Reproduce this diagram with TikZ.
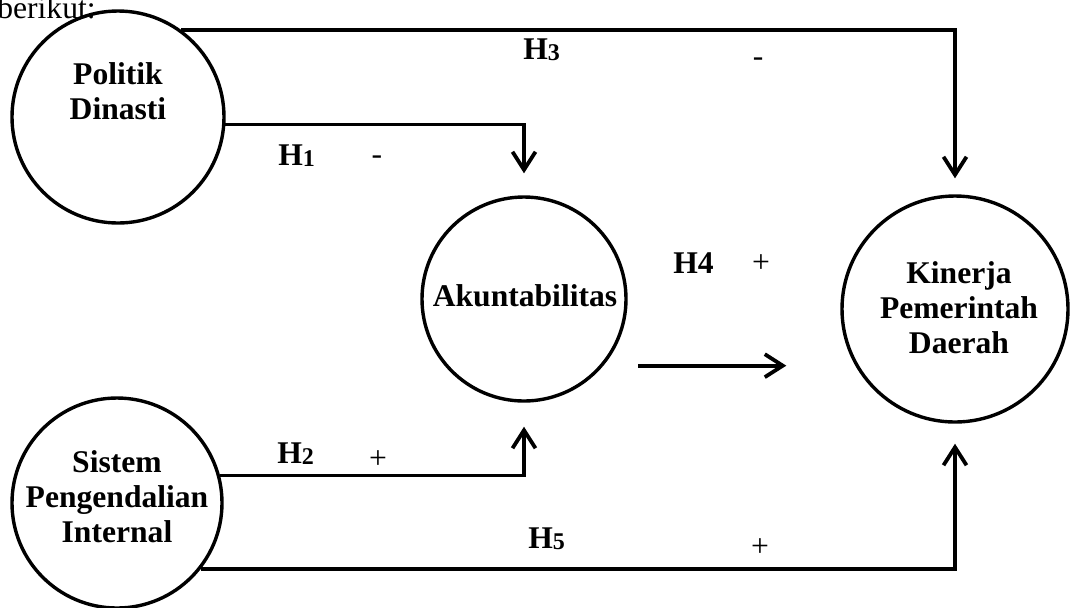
\documentclass[tikz,border=0pt]{standalone}
\usepackage{fontspec}
\setmainfont{Liberation Serif}
\usepackage{tikz}
\usetikzlibrary{arrows.meta}

\newcommand{\hyp}[1]{H\raisebox{-0.85pt}{\fontsize{12}{12}\selectfont #1}}

\begin{document}
\begin{tikzpicture}[
  x=0.5pt, y=-0.5pt,
  var/.style={draw, circle, line width=1.7pt, inner sep=0pt},
  vartext/.style={align=center, inner sep=0pt,
                  font=\fontsize{15.8}{17.5}\selectfont\bfseries},
  arr/.style={-{Straight Barb[length=9pt, width=11.5pt]}, line width=1.9pt},
  hlab/.style={anchor=base west, inner sep=0pt,
               font=\fontsize{15.8}{17.5}\selectfont\bfseries},
  sign/.style={anchor=base, inner sep=0pt, font=\fontsize{15.8}{17.5}\selectfont},
]
  \useasboundingbox (0,0) rectangle (1070,607);

  \node[anchor=base east, inner sep=0pt, font=\fontsize{15.8}{17.5}\selectfont]
    (intro) at (96,18) {berikut:};

  \node[var, minimum size=106pt] (pd) at (118,117) {};
  \node[var, minimum size=102pt] (ak) at (524,299) {};
  \node[var, minimum size=113pt] (kp) at (955,309) {};
  \node[var, minimum size=105pt] (sp) at (117,503) {};

  \node[vartext] (pdt) at (118,91)  {Politik\\Dinasti};
  \node[vartext] (akt) at (525,296) {Akuntabilitas};
  \node[vartext] (kpt) at (959,308) {Kinerja\\Pemerintah\\Daerah};
  \node[vartext] (spt) at (117,497) {Sistem\\Pengendalian\\Internal};

  % paths between variables
  \draw[arr, shorten >=8pt]  (pd.54)  -| (kp.north);
  \draw[arr, shorten >=11pt] (pd.-4)  -| (ak.north);
  \draw[arr, shorten >=12pt] (sp.15)  -| (ak.south);
  \draw[arr, shorten >=10pt] (sp.-38) -| (kp.south);
  \draw[arr, shorten <=17.5pt, shorten >=27pt] (ak.-40) -- (ak.-40 -| kp.west);

  % hypothesis labels
  \node[hlab] (h1) at (278,165) {\hyp{1}};
  \node[sign] (s1) at (377,164) {-};
  \node[hlab] (h2) at (277,463) {\hyp{2}};
  \node[sign] (s2) at (378,468) {+};
  \node[hlab] (h3) at (523,59)  {\hyp{3}};
  \node[sign] (s3) at (758,66)  {-};
  \node[hlab] (h4) at (673,273) {H4};
  \node[sign] (s4) at (761,272) {+};
  \node[hlab] (h5) at (528,548) {\hyp{5}};
  \node[sign] (s5) at (760,556) {+};
\end{tikzpicture}
\end{document}
